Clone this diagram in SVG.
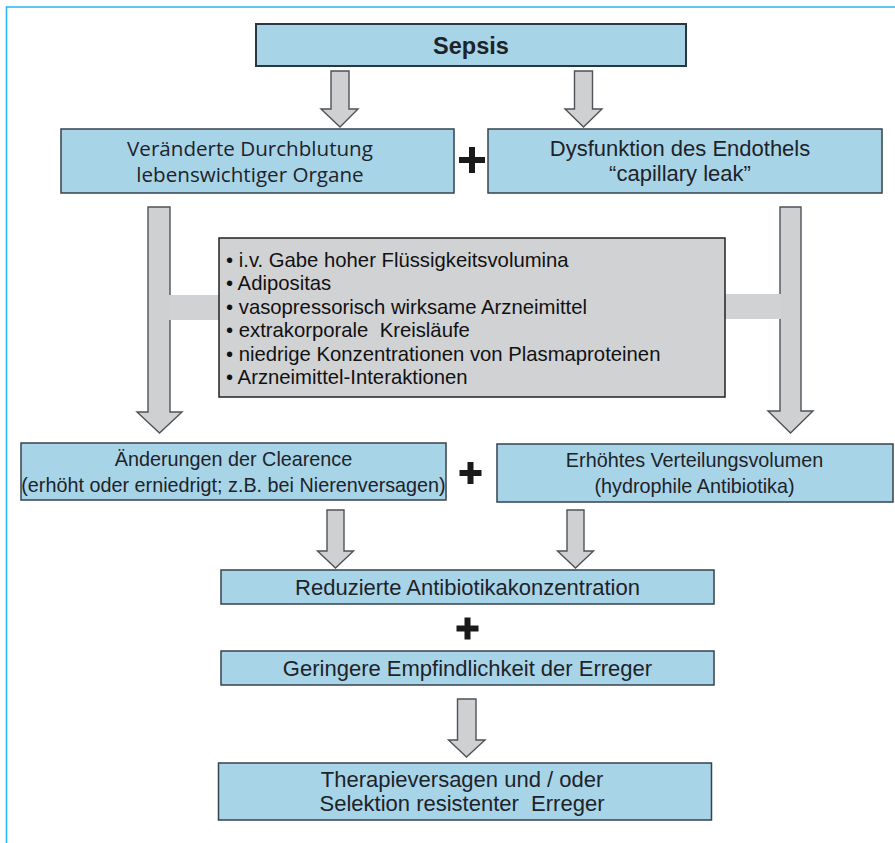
<svg xmlns="http://www.w3.org/2000/svg" width="895" height="843" viewBox="0 0 895 843">
<style>
.box{fill:#a8d4e8;stroke:#36424c;stroke-width:1.5}
.gbox{fill:#d1d2d4;stroke:#222;stroke-width:1.5}
.arr{fill:#cfd0d2;stroke:#4e5357;stroke-width:1.4;stroke-linejoin:miter}
.bar{fill:#d1d2d4}
.plus{stroke:#1a1a1a;stroke-width:6;fill:none}
text{font-family:"Liberation Sans",Arial,sans-serif;fill:#1e2328;text-anchor:middle}
.t20{font-size:19.8px}
.t22{font-size:22px}
.my{font-family:"Open Sans","Liberation Sans",sans-serif;font-size:20.6px}
.li{font-size:20.3px;text-anchor:start;fill:#111}
</style>
<rect width="895" height="843" fill="#fff"/>
<path d="M6.5,843 V7 H895" fill="none" stroke="#2ab4ef" stroke-width="1.6"/>
<g id="connectors">
<polygon class="arr" points="331,71 349,71 349,109 358,109 340,127 321,109 331,109"/>
<polygon class="arr" points="574.5,71 592.5,71 592.5,109 602,109 583.5,127 565,109 574.5,109"/>
<polygon class="arr" points="148,207 170,207 170,412 182,412 159.5,433 137,412 148,412"/>
<polygon class="arr" points="780,207 801,207 801,411 813,411 790.5,433 768,411 780,411"/>
<rect class="bar" x="169" y="295" width="50" height="25"/>
<rect class="bar" x="725" y="294" width="56" height="25"/>
<polygon class="arr" points="327,510 344,510 344,551 353.5,551 335.5,568 317.5,551 327,551"/>
<polygon class="arr" points="567,510 584,510 584,551 593.5,551 575.5,568 557.5,551 567,551"/>
<polygon class="arr" points="457.5,699 476,699 476,740 485,740 466.5,757 448.5,740 457.5,740"/>
</g>
<g id="plus-signs">
<path class="plus" d="M459,160 H485 M472,147 V173"/>
<path class="plus" d="M459.5,473 H481.5 M470.5,462 V484"/>
<path class="plus" d="M456.5,628.5 H478.5 M467.5,617.5 V639.5"/>
</g>
<g id="sepsis">
<rect class="box" x="256" y="24" width="430" height="42" style="stroke:#2a3640;stroke-width:2"/>
<text x="471" y="54" style="font-size:23.5px;font-weight:bold">Sepsis</text>
</g>
<g id="durchblutung">
<rect class="box" x="61" y="129" width="393" height="64"/>
<text class="my" x="250" y="156">Veränderte Durchblutung</text>
<text class="my" x="250" y="182">lebenswichtiger Organe</text>
</g>
<g id="endothel">
<rect class="box" x="488" y="129" width="394" height="64"/>
<text class="t22" x="680" y="156">Dysfunktion des Endothels</text>
<text class="t22" x="680" y="181">“capillary leak”</text>
</g>
<g id="faktoren">
<rect class="gbox" x="219" y="238" width="506" height="159"/>
<text class="li" x="226" y="267">• i.v. Gabe hoher Flüssigkeitsvolumina</text>
<text class="li" x="226" y="290.4">• Adipositas</text>
<text class="li" x="226" y="313.8">• vasopressorisch wirksame Arzneimittel</text>
<text class="li" x="226" y="337.2" xml:space="preserve">• extrakorporale  Kreisläufe</text>
<text class="li" x="226" y="360.6">• niedrige Konzentrationen von Plasmaproteinen</text>
<text class="li" x="226" y="384">• Arzneimittel-Interaktionen</text>
</g>
<g id="clearence">
<rect class="box" x="21" y="443" width="425" height="57"/>
<text class="t20" x="233.5" y="466">Änderungen der Clearence</text>
<text class="t20" x="233.5" y="492">(erhöht oder erniedrigt; z.B. bei Nierenversagen)</text>
</g>
<g id="verteilungsvolumen">
<rect class="box" x="497" y="444" width="396" height="58"/>
<text class="t20" x="694.5" y="467">Erhöhtes Verteilungsvolumen</text>
<text class="t20" x="694.5" y="493">(hydrophile Antibiotika)</text>
</g>
<g id="reduzierte">
<rect class="box" x="221" y="570" width="493" height="34"/>
<text class="t22" x="467.5" y="595">Reduzierte Antibiotikakonzentration</text>
</g>
<g id="empfindlichkeit">
<rect class="box" x="221" y="651" width="493" height="34"/>
<text class="t22" x="467.5" y="676">Geringere Empfindlichkeit der Erreger</text>
</g>
<g id="therapieversagen">
<rect class="box" x="218.5" y="763" width="493" height="57"/>
<text class="t22" x="462" y="787">Therapieversagen und / oder</text>
<text class="t22" x="462" y="811" xml:space="preserve">Selektion resistenter  Erreger</text>
</g>
</svg>
